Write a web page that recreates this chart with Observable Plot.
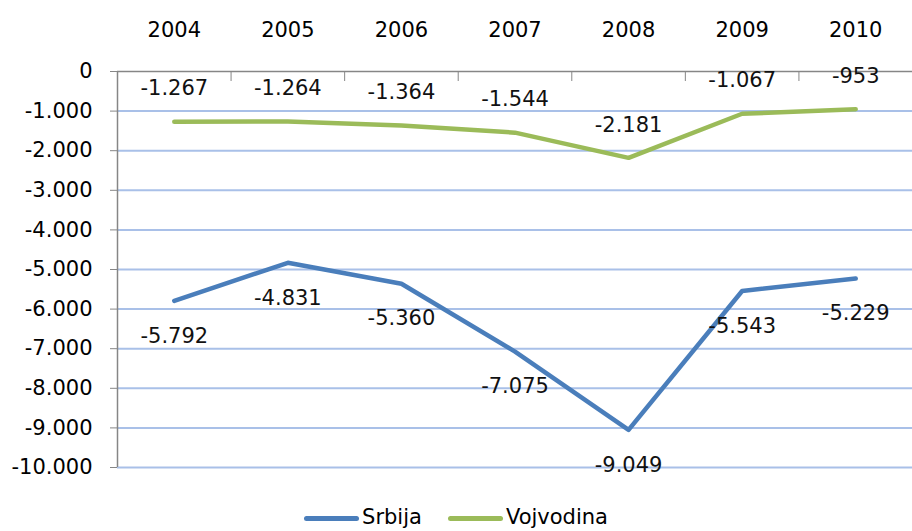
<!DOCTYPE html>
<html>
<head>
<meta charset="utf-8">
<script src="https://cdn.jsdelivr.net/npm/d3@7"></script>
<script src="https://cdn.jsdelivr.net/npm/@observablehq/plot@0.6"></script>
<style>
  html, body { margin: 0; padding: 0; background: #fff; }
  #legend { height: 31px; display: flex; justify-content: center; align-items: flex-start;
            font-family: "DejaVu Sans", sans-serif; font-size: 21px; color: #000; line-height: 22px; padding-top: 6px; box-sizing: border-box; }
  .item { display: flex; align-items: center; margin: 0 13px; }
  .swatch { display: inline-block; width: 55px; height: 5px; border-radius: 3px; margin-right: 3px; position: relative; top: 1px; }
</style>
</head>
<body>
<div id="chart"></div>
<div id="legend"></div>
<script>
const years = [2004, 2005, 2006, 2007, 2008, 2009, 2010];
const srbija = [-5792, -4831, -5360, -7075, -9049, -5543, -5229];
const vojvodina = [-1267, -1264, -1364, -1544, -2181, -1067, -953];
const yTicks = [0, -1000, -2000, -3000, -4000, -5000, -6000, -7000, -8000, -9000, -10000];
const seriesNames = ["Srbija", "Vojvodina"];
const seriesColors = ["#4A7EBB", "#9BBB59"];

const fmt = d3.formatLocale({decimal: ",", thousands: ".", grouping: [3], currency: ["", ""], minus: "-"}).format(",d");

const table = [
  ...years.map((y, i) => ({year: y, series: seriesNames[0], value: srbija[i]})),
  ...years.map((y, i) => ({year: y, series: seriesNames[1], value: vojvodina[i]}))
];
const boundaries = years.slice(1).map(y => y - 0.5);
const axisColor = "#868686";

const chart = Plot.plot({
  width: 912,
  height: 500,
  marginLeft: 117,
  marginRight: 0,
  marginTop: 71,
  marginBottom: 33,
  x: {type: "linear", domain: [years[0] - 0.5, years[years.length - 1] + 0.5]},
  y: {domain: [yTicks[yTicks.length - 1], yTicks[0]]},
  color: {domain: seriesNames, range: seriesColors},
  style: {fontFamily: "DejaVu Sans, sans-serif", fontSize: "21px", color: "#000", background: "#fff"},
  marks: [
    Plot.ruleY(yTicks.filter(v => v !== 0), {stroke: "#A9C0E8", strokeWidth: 2}),
    Plot.ruleY([0], {stroke: axisColor, strokeWidth: 1.5}),
    Plot.ruleX([years[0] - 0.5], {stroke: axisColor, strokeWidth: 1.5}),
    Plot.axisY({ticks: yTicks, tickSize: 7, tickPadding: 18, tickFormat: fmt, stroke: axisColor, fill: "#000", label: null}),
    Plot.axisX({anchor: "top", ticks: years, tickSize: 0, tickPadding: 35, tickFormat: d => String(d), fill: "#000", label: null}),
    Plot.axisX({anchor: "top", ticks: boundaries, tickSize: -9, tickFormat: () => "", stroke: axisColor, label: null}),
    Plot.line(table, {x: "year", y: "value", z: "series", stroke: "series", strokeWidth: 4.5, strokeLinecap: "round", strokeLinejoin: "round"}),
    Plot.text(table.filter(d => d.series === seriesNames[0]), {x: "year", y: "value", text: d => fmt(d.value), dy: 35, fill: "#111"}),
    Plot.text(table.filter(d => d.series === seriesNames[1]), {x: "year", y: "value", text: d => fmt(d.value), dy: -33, fill: "#111"})
  ]
});
document.getElementById("chart").appendChild(chart);

const legend = document.getElementById("legend");
seriesNames.forEach((name, i) => {
  const item = document.createElement("div");
  item.className = "item";
  const sw = document.createElement("span");
  sw.className = "swatch";
  sw.style.background = seriesColors[i];
  const label = document.createElement("span");
  label.textContent = name;
  item.appendChild(sw);
  item.appendChild(label);
  legend.appendChild(item);
});
</script>
</body>
</html>
